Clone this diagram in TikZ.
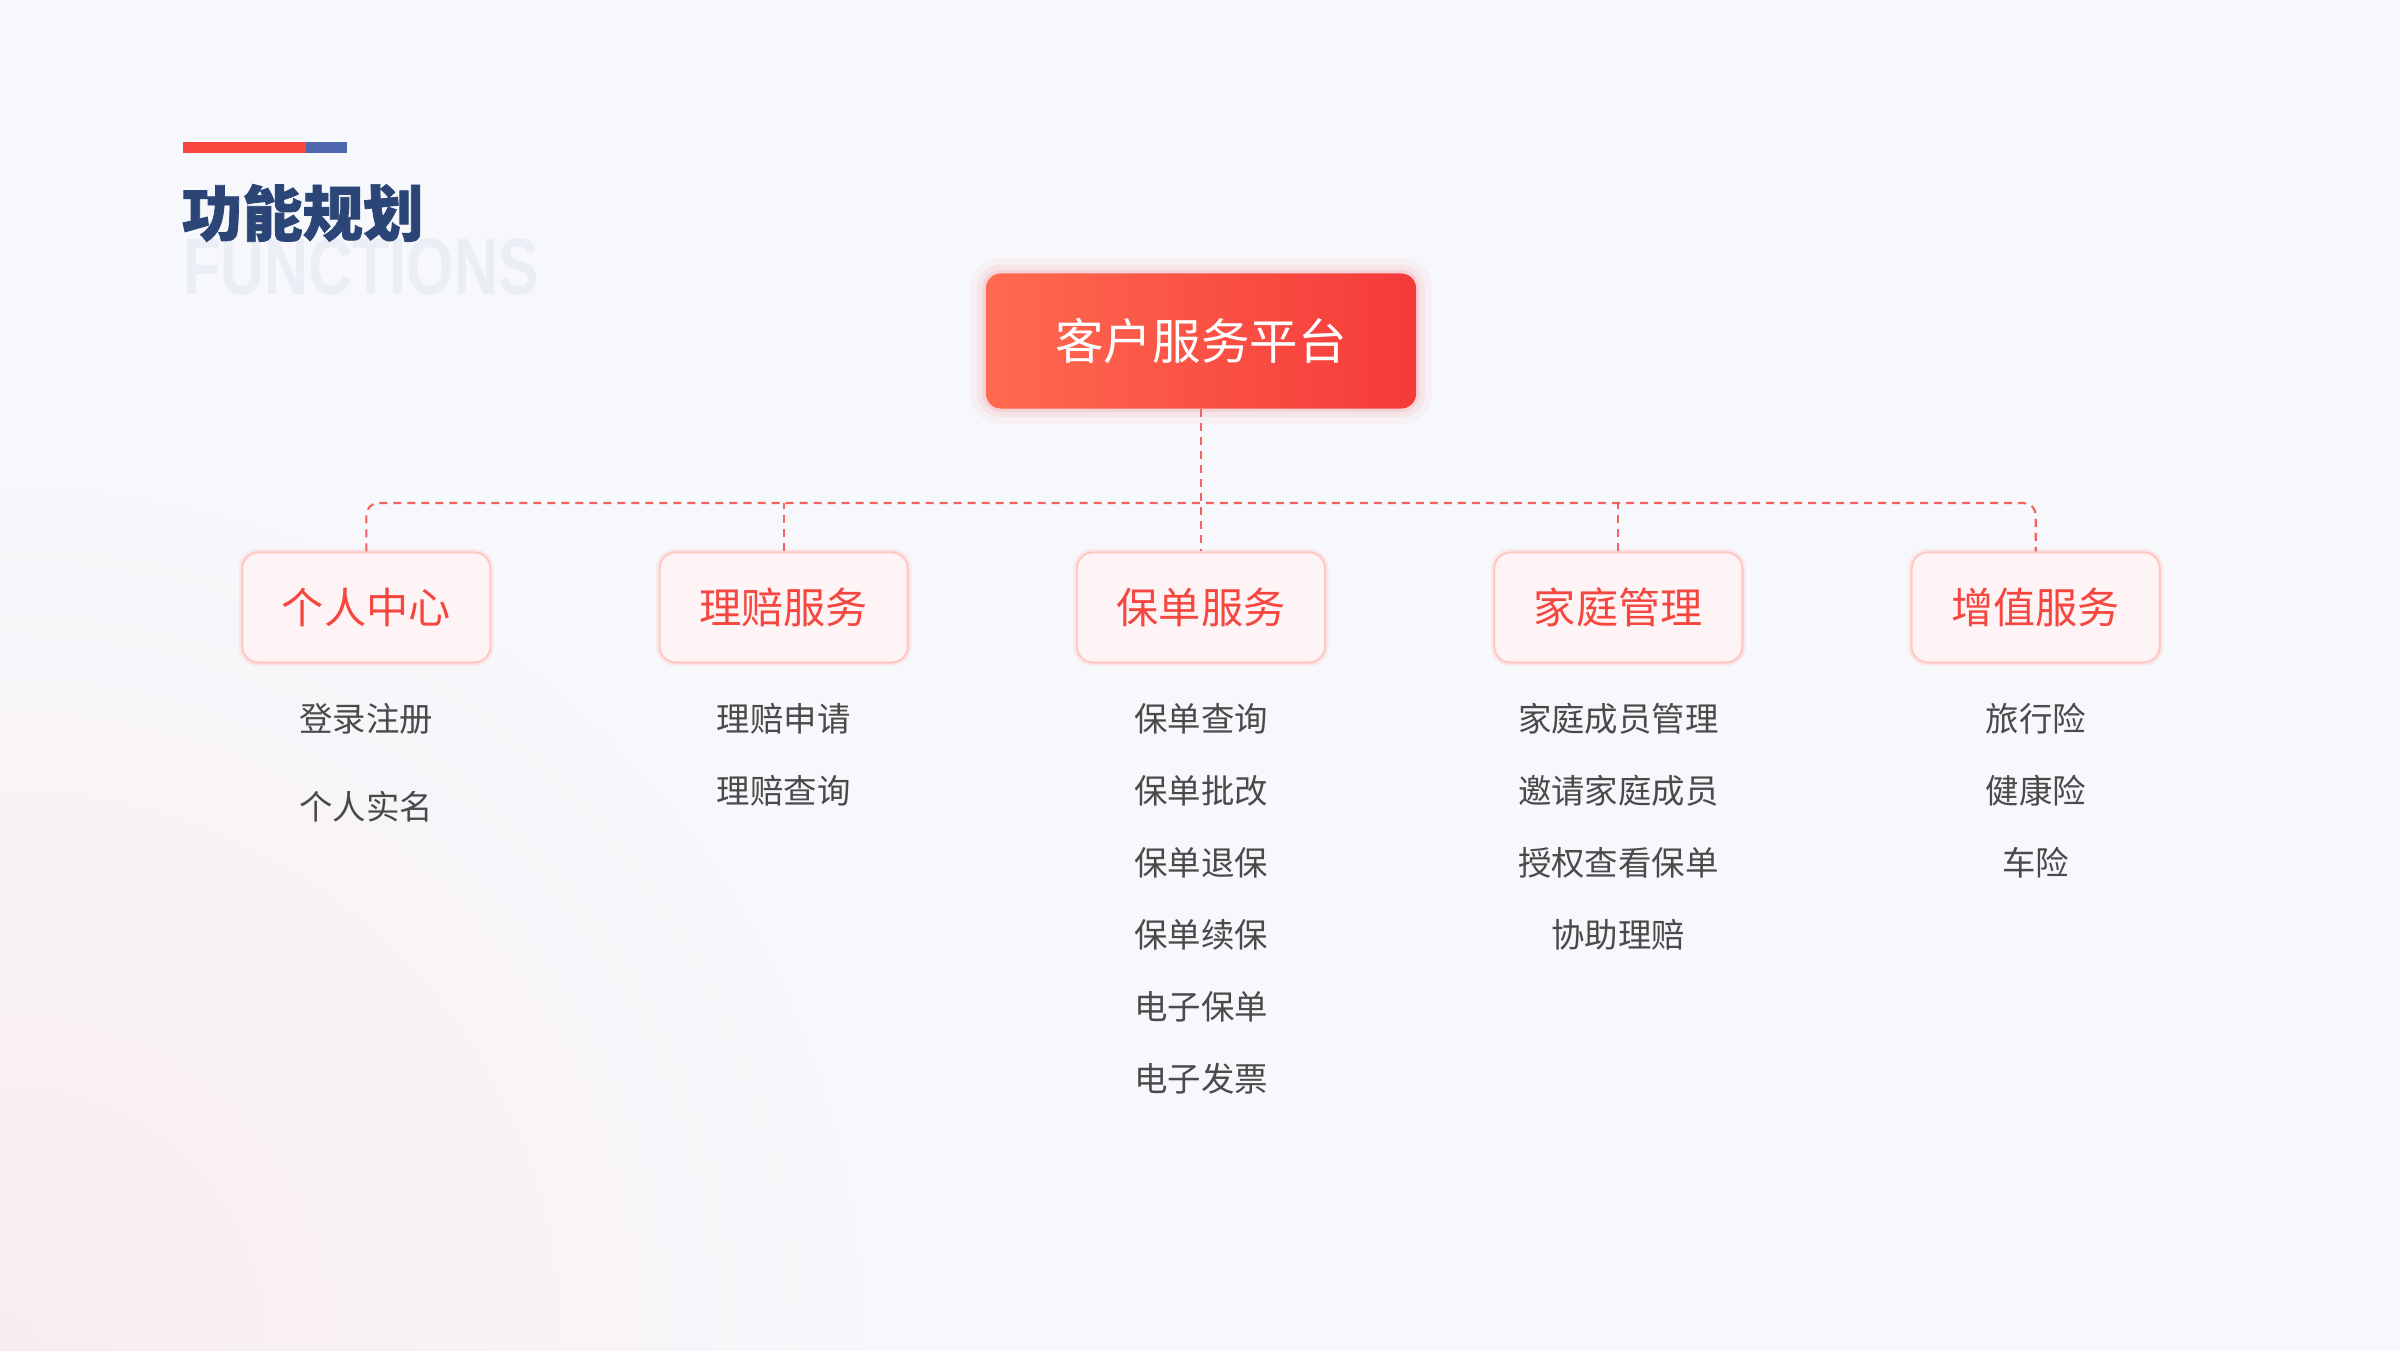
\documentclass[tikz,border=0pt]{standalone}
\usepackage{fontspec}
\setmainfont{Noto Sans CJK SC}
\newfontfamily\titlefont{Noto Sans CJK SC}[BoldFeatures={FakeBold=1.2}]
\newfontfamily\latinfont{Liberation Sans}
\usepackage{tikz}
\usetikzlibrary{positioning,shadings}

\definecolor{bgc}{HTML}{F7F8FC}
\definecolor{pinkc}{HTML}{F9ECEE}
\definecolor{navy}{HTML}{2C4577}
\definecolor{ghost}{HTML}{ECEEF6}
\definecolor{barred}{HTML}{F7473F}
\definecolor{barblue}{HTML}{5068AE}
\definecolor{linkc}{HTML}{F26260}
\definecolor{rootl}{HTML}{FF6A50}
\definecolor{rootr}{HTML}{F53A3A}
\definecolor{childfill}{HTML}{FFF4F5}
\definecolor{childdraw}{HTML}{FFC8C4}
\definecolor{childtext}{HTML}{F5473F}
\definecolor{leaftext}{HTML}{4A4A4A}

\begin{document}
\begin{tikzpicture}[
  x=0.01cm, y=-0.01cm,
  node distance=1.67cm and 1.67cm,
  root/.style={rounded corners=0.15cm, left color=rootl, right color=rootr, text=white,
    minimum width=4.3cm, minimum height=1.35cm, font=\fontsize{13.8pt}{16pt}\selectfont,
    preaction={draw=rootr, line width=9pt, opacity=0.04},
    preaction={draw=rootr, line width=5pt, opacity=0.06},
    preaction={draw=rootr, line width=2pt, opacity=0.1}},
  child/.style={draw=childdraw, fill=childfill, line width=0.6pt, rounded corners=0.16cm,
    text=childtext, minimum width=2.48cm, minimum height=1.1cm,
    font=\fontsize{12pt}{14pt}\selectfont,
    preaction={draw=childdraw, line width=2pt, opacity=0.3}},
  leaf/.style={inner sep=0pt, outer sep=0pt, minimum height=0.72cm, text=leaftext,
    font=\fontsize{9.5pt}{11pt}\selectfont},
  link/.style={draw=linkc, line width=0.6pt, dash pattern=on 0.08cm off 0.06cm}
]

% background
\fill[bgc] (0,0) rectangle (2400,1350);
\begin{scope}
  \clip (0,0) rectangle (2400,1350);
  \shade[inner color=pinkc, outer color=bgc] (0,1350) circle (900);
\end{scope}
\useasboundingbox (0,0) rectangle (2400,1350);

% heading
\fill[barred] (183,142) rectangle (306,153);
\fill[barblue] (306,142) rectangle (347,153);
\node[anchor=base west, inner sep=0pt, text=ghost, xscale=0.76,
  font=\latinfont\bfseries\fontsize{22.8pt}{24pt}\selectfont] (ghost) at (183,294) {FUNCTIONS};
\node[anchor=base west, inner sep=0pt, text=navy,
  font=\titlefont\bfseries\fontsize{17.2pt}{19pt}\selectfont] (title) at (181,236) {功能规划};

% tree
\node[root] (platform) at (1201,341) {客户服务平台};
\node[child, below=1.42cm of platform] (policy) {保单服务};
\node[child, left=of policy] (claim) {理赔服务};
\node[child, left=of claim] (personal) {个人中心};
\node[child, right=of policy] (family) {家庭管理};
\node[child, right=of family] (extra) {增值服务};

\coordinate (bus) at (1200,503);

\draw[link] (platform) -- (policy);
\draw[link, rounded corners=0.12cm] (personal.north) -- (personal.north |- bus)
  -- (extra.north |- bus) -- (extra.north);
\draw[link] (claim.north) -- (claim.north |- bus);
\draw[link] (family.north) -- (family.north |- bus);

% leaves
\node[leaf, below=0.19cm of personal] (p1) {登录注册};
\node[leaf, below=0.16cm of p1] (p2) {个人实名};

\node[leaf, below=0.19cm of claim] (c1) {理赔申请};
\node[leaf, below=0cm of c1] (c2) {理赔查询};

\node[leaf, below=0.19cm of policy] (s1) {保单查询};
\node[leaf, below=0cm of s1] (s2) {保单批改};
\node[leaf, below=0cm of s2] (s3) {保单退保};
\node[leaf, below=0cm of s3] (s4) {保单续保};
\node[leaf, below=0cm of s4] (s5) {电子保单};
\node[leaf, below=0cm of s5] (s6) {电子发票};

\node[leaf, below=0.19cm of family] (f1) {家庭成员管理};
\node[leaf, below=0cm of f1] (f2) {邀请家庭成员};
\node[leaf, below=0cm of f2] (f3) {授权查看保单};
\node[leaf, below=0cm of f3] (f4) {协助理赔};

\node[leaf, below=0.19cm of extra] (e1) {旅行险};
\node[leaf, below=0cm of e1] (e2) {健康险};
\node[leaf, below=0cm of e2] (e3) {车险};

\end{tikzpicture}
\end{document}
